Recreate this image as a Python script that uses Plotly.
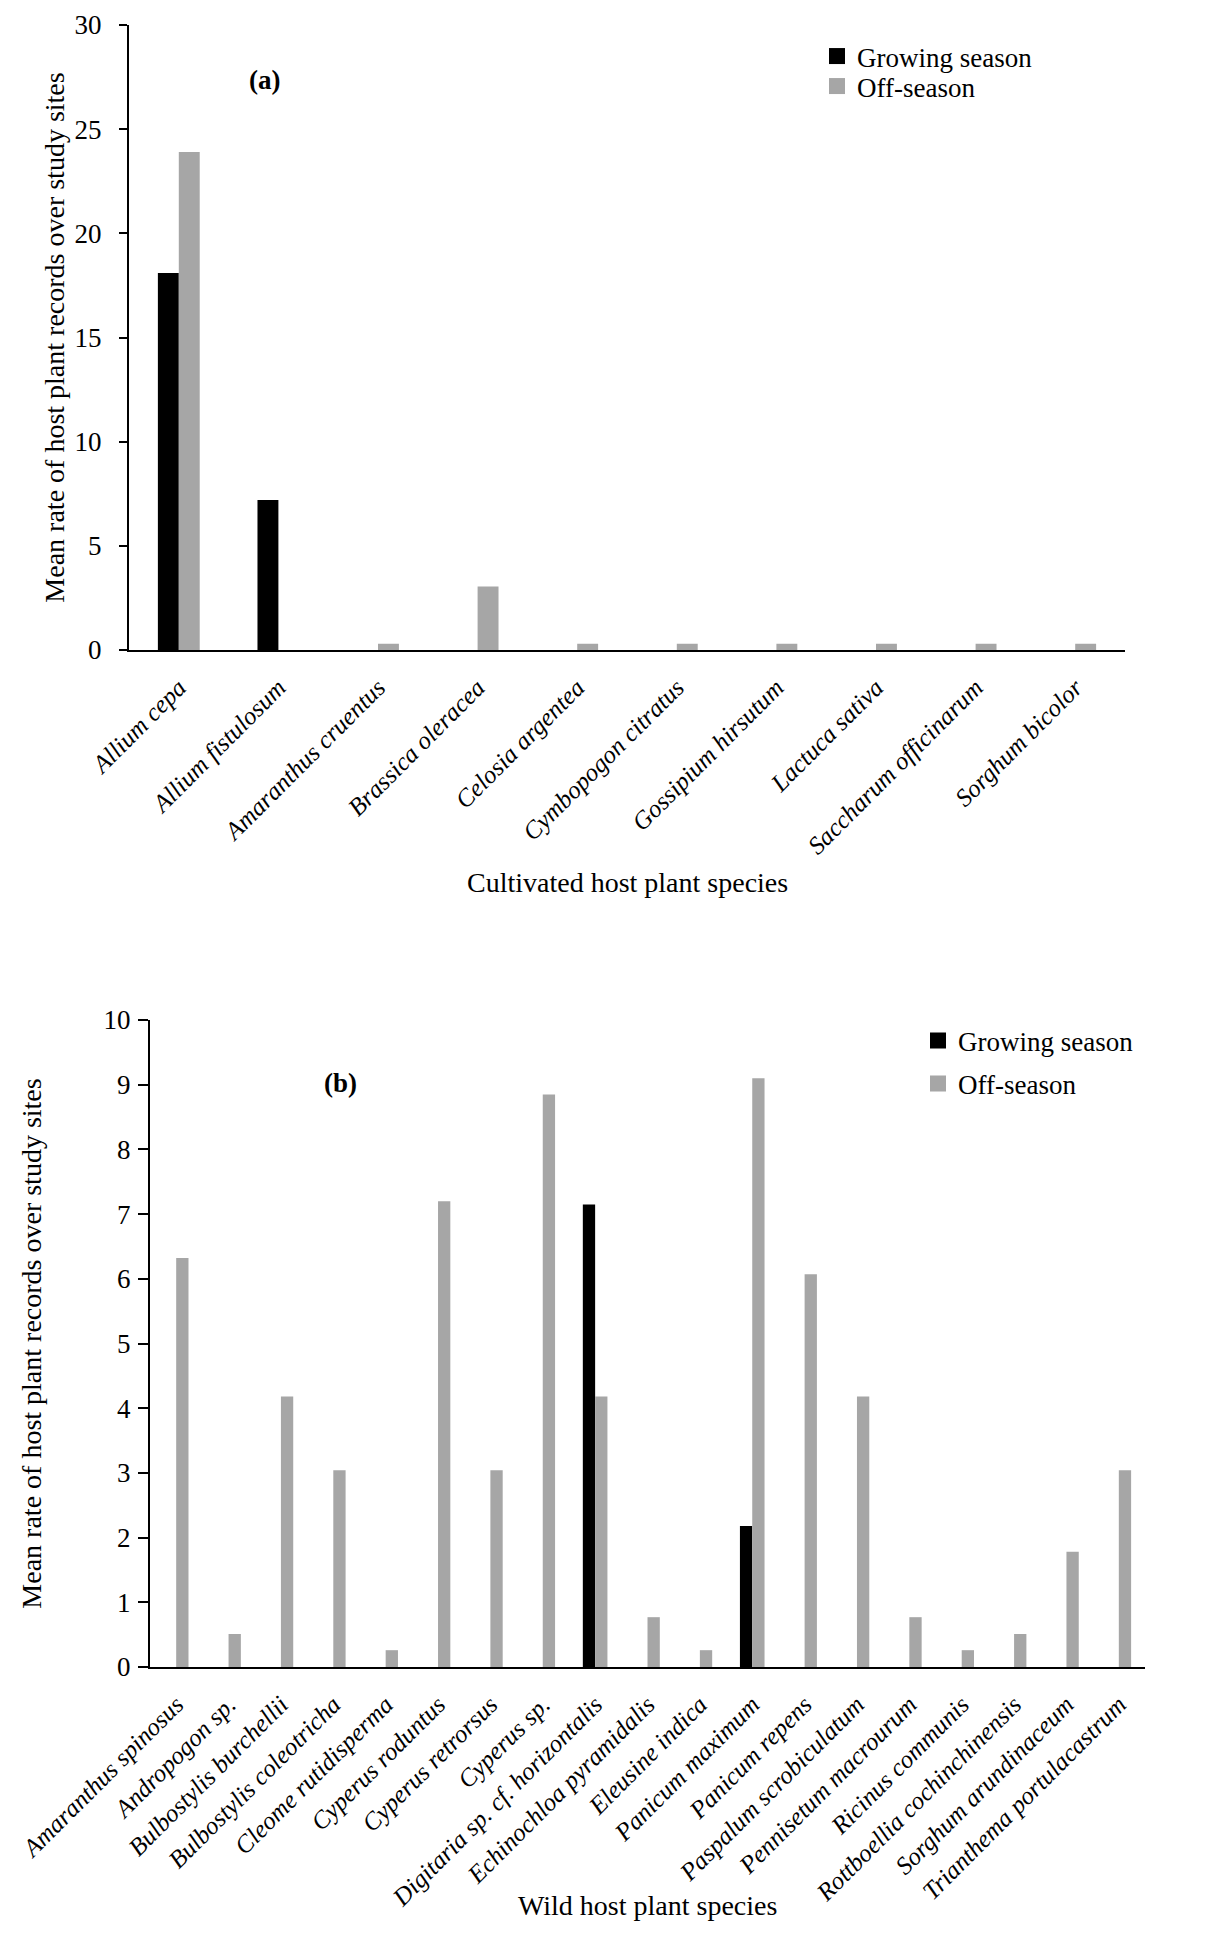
import plotly.graph_objects as go

# ---------------- data ----------------
cultivated_species = ["Allium cepa", "Allium fistulosum", "Amaranthus cruentus", "Brassica oleracea",
                      "Celosia argentea", "Cymbopogon citratus", "Gossipium hirsutum", "Lactuca sativa",
                      "Saccharum officinarum", "Sorghum bicolor"]
cultivated_growing = [18.1, 7.2, 0, 0, 0, 0, 0, 0, 0, 0]
cultivated_off = [23.9, 0, 0.3, 3.05, 0.3, 0.3, 0.3, 0.3, 0.3, 0.3]

wild_species = ["Amaranthus spinosus", "Andropogon sp.", "Bulbostylis burchellii", "Bulbostylis coleotricha",
                "Cleome rutidisperma", "Cyperus roduntus", "Cyperus retrorsus", "Cyperus sp.",
                "Digitaria sp. cf. horizontalis", "Echinochloa pyramidalis", "Eleusine indica",
                "Panicum maximum", "Panicum repens", "Paspalum scrobiculatum", "Pennisetum macrourum",
                "Ricinus communis", "Rottboellia cochinchinensis", "Sorghum arundinaceum",
                "Trianthema portulacastrum"]
wild_growing = [0, 0, 0, 0, 0, 0, 0, 0, 7.15, 0, 0, 2.18, 0, 0, 0, 0, 0, 0, 0]
wild_off = [6.32, 0.51, 4.18, 3.04, 0.26, 7.2, 3.04, 8.85, 4.18, 0.77, 0.26, 9.1, 6.07, 4.18, 0.77,
            0.26, 0.51, 1.78, 3.04]

series_names = ["Growing season", "Off-season"]
top_y_ticks = [0, 5, 10, 15, 20, 25, 30]
bottom_y_ticks = [0, 1, 2, 3, 4, 5, 6, 7, 8, 9, 10]

# ---------------- layout helpers ----------------
OFF = 8                      # default page body margin
W, H = 1226 - OFF, 1953 - OFF
def px(x):
    return (x - OFF) / W
def py(y):
    return 1 - (y - OFF) / H

FONT = "Palatino Linotype, Book Antiqua, Liberation Serif, serif"
BLACK = "#000000"
GREY = "#A6A6A6"
COLORS = [BLACK, GREY]
FS = 27
TICK_FS = 25
TITLE_FS = 28

fig = go.Figure()

# top chart (a)
fig.add_trace(go.Bar(x=cultivated_species, y=cultivated_growing, name=series_names[0],
                     marker=dict(color=BLACK, line=dict(width=0)), width=0.21, offset=-0.21,
                     xaxis="x", yaxis="y", showlegend=False))
fig.add_trace(go.Bar(x=cultivated_species, y=cultivated_off, name=series_names[1],
                     marker=dict(color=GREY, line=dict(width=0)), width=0.21, offset=0,
                     xaxis="x", yaxis="y", showlegend=False))
# bottom chart (b)
fig.add_trace(go.Bar(x=wild_species, y=wild_growing, name=series_names[0],
                     marker=dict(color=BLACK, line=dict(width=0)), width=0.235, offset=-0.235,
                     xaxis="x2", yaxis="y2", showlegend=False))
fig.add_trace(go.Bar(x=wild_species, y=wild_off, name=series_names[1],
                     marker=dict(color=GREY, line=dict(width=0)), width=0.235, offset=0,
                     xaxis="x2", yaxis="y2", showlegend=False))

# legend entries (square swatches, one legend box per entry for exact spacing)
legend_ids = [("legend", "legend3", "x", "y"), ("legend2", "legend4", "x2", "y2")]
for lg_a, lg_b, xa, ya in legend_ids:
    for name, color, lg in zip(series_names, COLORS, [lg_a, lg_b]):
        fig.add_trace(go.Scatter(x=[None], y=[None], mode="markers", name=name,
                                 marker=dict(symbol="square", size=16, color=color, line=dict(width=0)),
                                 xaxis=xa, yaxis=ya, legend=lg, showlegend=True, hoverinfo="skip"))

axis_common = dict(showline=True, linecolor=BLACK, linewidth=2, showgrid=False, zeroline=False,
                   color=BLACK, automargin=False)

def leg(x, y):
    return dict(x=px(x), y=py(y), xanchor="left", yanchor="middle", bgcolor="rgba(0,0,0,0)",
                font=dict(family=FONT, size=FS), borderwidth=0, itemsizing="trace")

def note(text, x, y, size):
    return dict(text=text, x=px(x), y=py(y), xref="paper", yref="paper", xanchor="center",
                yanchor="middle", showarrow=False, font=dict(family=FONT, size=size))

fig.update_layout(
    width=W, height=H,
    margin=dict(l=0, r=0, t=0, b=0, autoexpand=False),
    paper_bgcolor="white", plot_bgcolor="white",
    font=dict(family=FONT, size=FS, color=BLACK),
    barmode="group",
    showlegend=True,
    xaxis=dict(domain=[px(129), px(1125)], anchor="y", ticks="", tickangle=-45, ticklabelstandoff=11,
               tickfont=dict(family=FONT, size=TICK_FS, style="italic"), **axis_common),
    yaxis=dict(domain=[py(650), py(25)], anchor="x", range=[0, 30], tickvals=top_y_ticks,
               ticks="outside", ticklen=8, tickwidth=2, tickcolor=BLACK, ticklabelstandoff=12,
               tickfont=dict(family=FONT, size=FS),
               title=dict(text="Mean rate of host plant records over study sites",
                          font=dict(family=FONT, size=TITLE_FS), standoff=2),
               **axis_common),
    xaxis2=dict(domain=[px(150), px(1145)], anchor="y2", ticks="", tickangle=-45, ticklabelstandoff=11,
                tickfont=dict(family=FONT, size=TICK_FS, style="italic"), **axis_common),
    yaxis2=dict(domain=[py(1667), py(1020)], anchor="x2", range=[0, 10], tickvals=bottom_y_ticks,
                ticks="outside", ticklen=10, tickwidth=2, tickcolor=BLACK, ticklabelstandoff=2,
                tickfont=dict(family=FONT, size=FS),
                title=dict(text="Mean rate of host plant records over study sites",
                           font=dict(family=FONT, size=TITLE_FS), standoff=54),
                **axis_common),
    legend=leg(817, 56.5),
    legend3=leg(817, 86.5),
    legend2=leg(918, 1041),
    legend4=leg(918, 1084),
    annotations=[
        note("<b>(a)</b>", 264, 80, FS),
        note("<b>(b)</b>", 340, 1083, FS),
        note("Cultivated host plant species", 627, 882, TITLE_FS),
        note("Wild host plant species", 647, 1905, TITLE_FS),
    ],
)

fig.write_html("out.html")
